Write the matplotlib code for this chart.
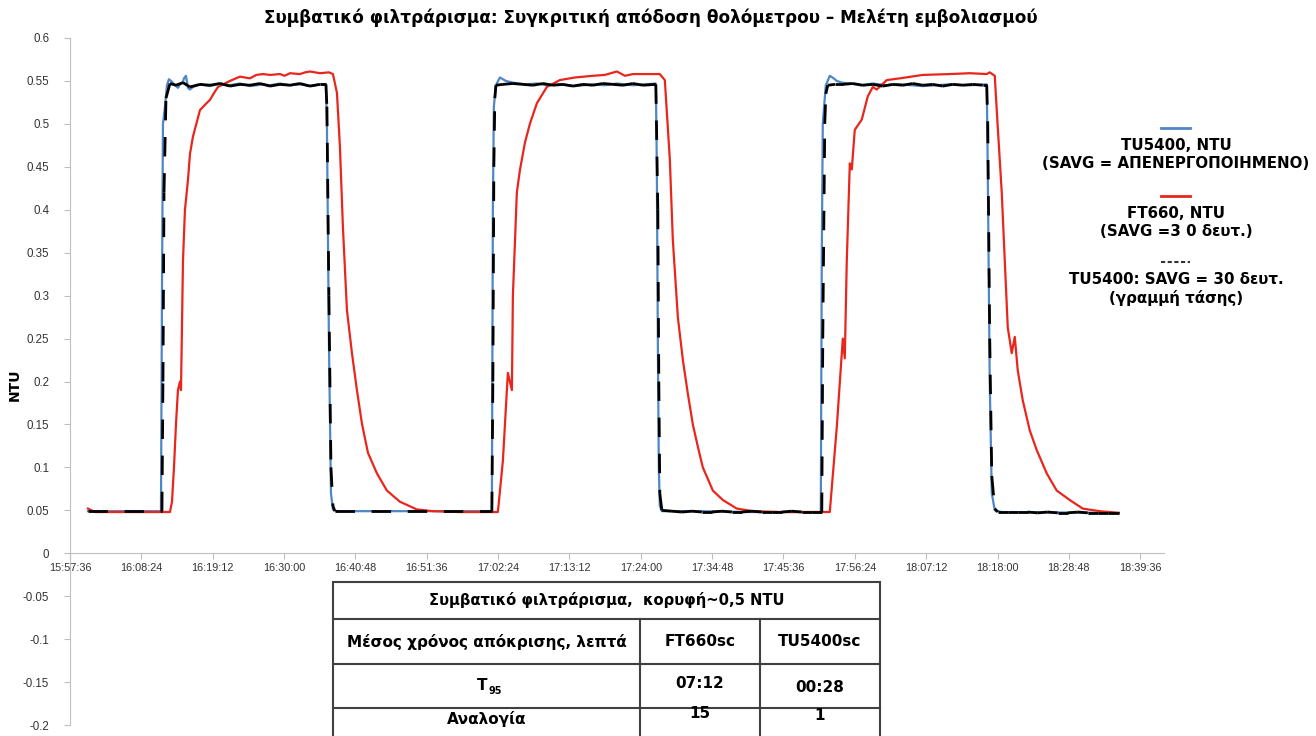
import numpy as np
import matplotlib.pyplot as plt
from matplotlib.collections import LineCollection

plt.rcParams['font.family'] = ['Liberation Sans', 'DejaVu Sans']

# Axis range and ticks (clock times)
start_clock = "15:57:36"
end_clock = "18:43:12"
x_tick_labels = ["15:57:36", "16:08:24", "16:19:12", "16:30:00", "16:40:48", "16:51:36",
                 "17:02:24", "17:13:12", "17:24:00", "17:34:48", "17:45:36", "17:56:24",
                 "18:07:12", "18:18:00", "18:28:48", "18:39:36"]
y_ticks = [-0.2, -0.15, -0.1, -0.05, 0, 0.05, 0.1, 0.15, 0.2, 0.25, 0.3, 0.35, 0.4, 0.45, 0.5, 0.55, 0.6]

# Series: (minutes after 15:57:36, NTU)
tu5400_off = [
    (2.72, 0.049), (13.77, 0.049), (13.92, 0.30), (14.07, 0.50), (14.38, 0.52), (14.68, 0.545),
    (14.98, 0.552), (15.44, 0.549), (15.89, 0.545), (16.34, 0.542), (16.65, 0.546), (17.10, 0.549),
    (17.25, 0.553), (17.55, 0.556), (17.86, 0.542), (18.16, 0.540), (18.61, 0.543), (19.67, 0.546),
    (21.19, 0.544), (22.70, 0.547), (24.21, 0.545), (25.73, 0.547), (27.24, 0.544), (29.21, 0.546),
    (30.27, 0.545), (31.78, 0.547), (33.29, 0.545), (34.81, 0.546), (36.32, 0.544), (37.83, 0.546),
    (38.74, 0.546), (38.89, 0.50), (39.19, 0.25), (39.50, 0.07), (39.80, 0.051), (40.41, 0.049),
    (54.93, 0.049), (63.86, 0.049), (64.01, 0.40), (64.16, 0.52), (64.47, 0.545), (65.07, 0.554),
    (65.53, 0.552), (65.98, 0.550), (67.04, 0.548), (68.86, 0.546), (70.67, 0.547), (72.18, 0.545),
    (74.15, 0.546), (76.42, 0.544), (79.15, 0.546), (80.96, 0.545), (82.78, 0.547), (85.20, 0.545),
    (87.01, 0.546), (88.68, 0.547), (88.83, 0.45), (88.98, 0.25), (89.13, 0.10), (89.28, 0.055),
    (89.59, 0.049), (95.04, 0.049), (103.36, 0.048), (113.65, 0.048), (113.80, 0.35), (113.95, 0.50),
    (114.25, 0.53), (114.41, 0.545), (115.01, 0.556), (115.60, 0.553), (116.07, 0.550), (116.83, 0.548),
    (118.04, 0.547), (119.85, 0.545), (121.52, 0.547), (123.64, 0.545), (125.60, 0.546), (129.08, 0.544),
    (133.17, 0.546), (136.20, 0.545), (138.77, 0.546), (138.92, 0.45), (139.22, 0.20), (139.53, 0.07),
    (139.98, 0.050), (141.04, 0.048), (158.75, 0.047),
]

ft660 = [
    (2.72, 0.052), (3.78, 0.048), (15.13, 0.048), (15.44, 0.06), (15.74, 0.10), (16.04, 0.15),
    (16.34, 0.19), (16.65, 0.20), (16.80, 0.19), (17.10, 0.34), (17.40, 0.40), (17.86, 0.435),
    (18.16, 0.465), (18.61, 0.485), (19.67, 0.516), (20.40, 0.522), (21.19, 0.528), (21.80, 0.536),
    (22.40, 0.543), (24.21, 0.550), (25.73, 0.555), (27.24, 0.553), (28.20, 0.557), (29.21, 0.558),
    (30.27, 0.557), (31.78, 0.558), (32.50, 0.556), (33.29, 0.559), (34.81, 0.558), (35.60, 0.560),
    (36.32, 0.561), (37.83, 0.559), (39.19, 0.560), (39.80, 0.558), (40.41, 0.536), (40.86, 0.473),
    (41.31, 0.38), (41.92, 0.283), (42.68, 0.233), (43.43, 0.19), (44.19, 0.151), (45.10, 0.117),
    (46.46, 0.093), (47.97, 0.073), (49.94, 0.060), (52.51, 0.051), (54.93, 0.049), (59.02, 0.048),
    (64.77, 0.048), (65.53, 0.108), (66.28, 0.21), (66.89, 0.19), (67.04, 0.30), (67.64, 0.42),
    (68.10, 0.446), (68.86, 0.478), (69.61, 0.50), (70.67, 0.524), (72.18, 0.543), (74.15, 0.551),
    (76.42, 0.554), (79.15, 0.556), (80.96, 0.557), (82.78, 0.561), (84.00, 0.556), (85.20, 0.558),
    (87.01, 0.558), (89.28, 0.558), (90.04, 0.551), (90.80, 0.458), (91.25, 0.365), (92.01, 0.275),
    (92.77, 0.225), (93.52, 0.186), (94.28, 0.150), (95.04, 0.124), (95.79, 0.100), (97.31, 0.073),
    (98.82, 0.062), (100.94, 0.052), (103.36, 0.049), (107.44, 0.048), (115.01, 0.048), (116.07, 0.147),
    (116.83, 0.233), (116.98, 0.25), (117.28, 0.227), (117.58, 0.34), (118.04, 0.454), (118.34, 0.447),
    (118.79, 0.493), (119.85, 0.505), (120.76, 0.532), (121.52, 0.543), (122.12, 0.540), (123.64, 0.551),
    (125.60, 0.553), (129.08, 0.557), (133.17, 0.558), (136.20, 0.559), (138.77, 0.558), (139.22, 0.560),
    (139.98, 0.556), (140.43, 0.497), (141.04, 0.42), (141.49, 0.342), (141.95, 0.263), (142.55, 0.233),
    (143.01, 0.252), (143.46, 0.213), (144.22, 0.178), (145.28, 0.143), (146.34, 0.120), (147.85, 0.093),
    (149.36, 0.073), (151.33, 0.062), (153.30, 0.052), (155.87, 0.049), (158.75, 0.047),
]

tu5400_savg30 = [
    (2.72, 0.049), (13.92, 0.049), (14.07, 0.20), (14.23, 0.42), (14.53, 0.53), (15.13, 0.547),
    (16.04, 0.545), (17.10, 0.548), (18.16, 0.543), (19.67, 0.546), (21.19, 0.545), (22.70, 0.547),
    (24.21, 0.544), (25.73, 0.546), (27.24, 0.545), (28.75, 0.547), (30.27, 0.544), (31.78, 0.546),
    (33.29, 0.545), (34.81, 0.547), (36.32, 0.544), (37.83, 0.546), (38.74, 0.546), (38.89, 0.52),
    (39.19, 0.30), (39.50, 0.10), (39.80, 0.055), (40.10, 0.049), (63.86, 0.049), (64.01, 0.20),
    (64.16, 0.45), (64.31, 0.53), (64.47, 0.545), (65.53, 0.546), (67.04, 0.547), (68.56, 0.546),
    (70.07, 0.545), (71.58, 0.547), (73.10, 0.545), (74.61, 0.546), (76.12, 0.544), (77.64, 0.546),
    (79.15, 0.545), (80.66, 0.547), (82.18, 0.546), (83.69, 0.545), (85.20, 0.547), (86.72, 0.545),
    (88.68, 0.546), (88.98, 0.40), (89.13, 0.20), (89.28, 0.07), (89.59, 0.050), (91.10, 0.049),
    (92.61, 0.048), (94.13, 0.049), (95.64, 0.048), (97.15, 0.048), (98.67, 0.049), (100.18, 0.048),
    (101.69, 0.048), (103.21, 0.049), (104.72, 0.048), (106.23, 0.048), (107.75, 0.048), (109.26, 0.049),
    (110.77, 0.048), (112.29, 0.048), (113.80, 0.048), (113.95, 0.25), (114.25, 0.50), (114.41, 0.535),
    (114.70, 0.545), (115.80, 0.546), (116.98, 0.546), (118.49, 0.547), (120.00, 0.545), (121.52, 0.546),
    (123.03, 0.544), (124.54, 0.546), (126.06, 0.545), (127.57, 0.547), (129.08, 0.545), (130.60, 0.546),
    (132.11, 0.544), (133.62, 0.546), (135.14, 0.545), (136.65, 0.546), (138.16, 0.545), (138.77, 0.545),
    (138.92, 0.50), (139.22, 0.25), (139.53, 0.09), (139.98, 0.052), (140.43, 0.048), (141.94, 0.048),
    (143.46, 0.048), (144.97, 0.048), (146.48, 0.047), (148.00, 0.048), (149.51, 0.047), (151.02, 0.047),
    (152.54, 0.048), (154.05, 0.047), (155.56, 0.047), (157.08, 0.047), (158.75, 0.047),
]

title = "Συμβατικό φιλτράρισμα: Συγκριτική απόδοση θολόμετρου – Μελέτη εμβολιασμού"
legend_entries = [
    ("TU5400, NTU", "(SAVG = ΑΠΕΝΕΡΓΟΠΟΙΗΜΕΝΟ)"),
    ("FT660, NTU", "(SAVG =3 0 δευτ.)"),
    ("TU5400: SAVG = 30 δευτ.", "(γραμμή τάσης)"),
]
table_title = "Συμβατικό φιλτράρισμα,  κορυφή~0,5 NTU"
table_header = ["Μέσος χρόνος απόκρισης, λεπτά", "FT660sc", "TU5400sc"]
t95_values = ["07:12", "00:28"]
ratio_values = ["15", "1"]

BLUE = "#4F86C6"
RED = "#E8261C"
GRAY = "#BFBFBF"
BOLD_FONT = ["DejaVu Sans"]


def clock_to_min(s):
    h, m, sec = (int(v) for v in s.split(":"))
    return h * 60 + m + sec / 60.0


t0 = clock_to_min(start_clock)
x_ticks = [clock_to_min(s) - t0 for s in x_tick_labels]

fig = plt.figure(figsize=(13.16, 7.36), dpi=100)
W, H = 1316, 736
ax = fig.add_axes([70 / W, 11 / H, (1164 - 70) / W, (725 - 38) / H])

tu = np.array(tu5400_off)
ft = np.array(ft660)
tu30 = np.array(tu5400_savg30)

ax.plot(tu[:, 0], tu[:, 1], color=BLUE, lw=1.6, zorder=2)
ax.plot(ft[:, 0], ft[:, 1], color=RED, lw=1.6, zorder=3)
# dash pattern restarts on every segment, like the spreadsheet line
segs = np.stack([tu30[:-1], tu30[1:]], axis=1)
lc = LineCollection(segs, colors="black", linewidths=2.0, linestyles=[(0, (7, 6))], zorder=4,
                    capstyle="butt")
ax.add_collection(lc)

ax.set_xlim(0, clock_to_min(end_clock) - t0)
ax.set_ylim(-0.2, 0.6)
ax.set_xticks(x_ticks)
ax.set_xticklabels(x_tick_labels)
ax.set_yticks(y_ticks)
ax.set_yticklabels([f"{v:g}" for v in y_ticks])

for side in ["top", "right"]:
    ax.spines[side].set_visible(False)
ax.spines["bottom"].set_position(("data", 0))
ax.spines["bottom"].set_color(GRAY)
ax.spines["left"].set_color(GRAY)
ax.tick_params(axis="both", colors=GRAY, labelcolor="#333333", length=4, width=0.8)
ax.tick_params(axis="x", pad=3, labelsize=7.8)
ax.tick_params(axis="y", pad=11, labelsize=8.3)
ax.set_facecolor("none")

fig.text(651 / W, 1 - 18 / H, title, ha="center", va="center", fontsize=12.2, fontweight="bold",
         family=BOLD_FONT)
fig.text(15 / W, 1 - 385 / H, "NTU", ha="center", va="center", rotation=90, fontsize=10,
         fontweight="bold", family=BOLD_FONT)

# overlay in pixel coordinates for legend and table
ov = fig.add_axes([0, 0, 1, 1], zorder=5)
ov.set_xlim(0, W)
ov.set_ylim(H, 0)
ov.axis("off")

# legend
leg_cx = 1176
key_y = [128, 196, 262]
key_styles = [dict(color=BLUE, lw=2), dict(color=RED, lw=2), dict(color="#333333", lw=1.5, ls=(0, (2, 1.2)))]
for (l1, l2), ky, st in zip(legend_entries, key_y, key_styles):
    ov.plot([1161, 1190], [ky, ky], **st)
    ov.text(leg_cx, ky + 17, l1, ha="center", va="center", fontsize=10.8, fontweight="bold",
            family=BOLD_FONT)
    ov.text(leg_cx, ky + 36, l2, ha="center", va="center", fontsize=10.8, fontweight="bold",
            family=BOLD_FONT)

# table
tl, tr, tt, tb = 333, 880, 582, 752
c1, c2 = 640, 760
r1, r2, r3 = 619, 664, 708
ov.add_patch(plt.Rectangle((tl, tt), tr - tl, tb - tt, facecolor="white", edgecolor="#404040", lw=1.5))
lk = dict(color="#404040", lw=1.5)
for ry in (r1, r2, r3):
    ov.plot([tl, tr], [ry, ry], **lk)
for cx in (c1, c2):
    ov.plot([cx, cx], [r1, tb], **lk)

tk = dict(ha="center", va="center", fontsize=11, fontweight="bold", family=BOLD_FONT)
ov.text((tl + tr) / 2, (tt + r1) / 2, table_title, ha="center", va="center", fontsize=10.6,
        fontweight="bold", family=BOLD_FONT)
col_cx = [(tl + c1) / 2, (c1 + c2) / 2, (c2 + tr) / 2]
for cx, txt in zip(col_cx, table_header):
    ov.text(cx, (r1 + r2) / 2, txt, **tk)
ov.text(col_cx[0] - 4, 685, "T", **tk)
ov.text(col_cx[0] + 2, 691, "95", ha="left", va="center", fontsize=7, fontweight="bold", family=BOLD_FONT)
ov.text(col_cx[1], 683, t95_values[0], **tk)
ov.text(col_cx[2], 688, t95_values[1], **tk)
ov.text(col_cx[0], 719, "Αναλογία", **tk)
ov.text(col_cx[1], 714, ratio_values[0], **tk)
ov.text(col_cx[2], 716, ratio_values[1], **tk)

fig.savefig("out.png", dpi=100)
